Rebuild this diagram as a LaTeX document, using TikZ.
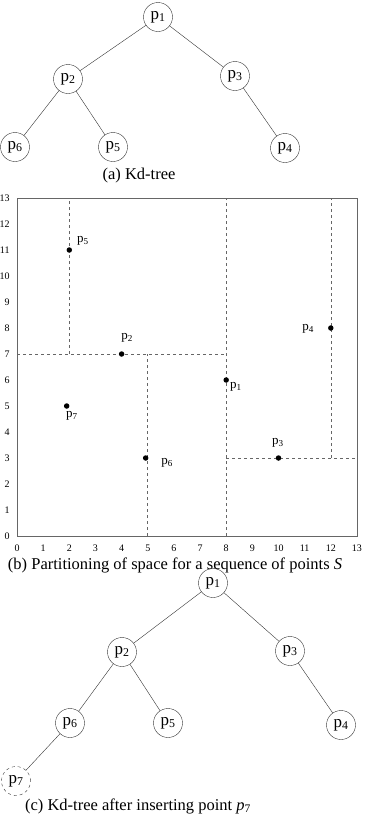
\documentclass[tikz,border=0pt]{standalone}
\usepackage{fontspec}
\setmainfont{Liberation Serif}
\usetikzlibrary{positioning}
\newcommand{\kp}[1]{p\textsubscript{#1}}
\tikzset{
  knode/.style={circle,draw=black!80,thin,minimum size=29pt,inner sep=0pt,font=\fontsize{17}{17}\selectfont},
  newnode/.style={knode,dashed},
  kedge/.style={black!80,thin},
  split/.style={black!60,dashed,line width=0.6pt},
  dot/.style={circle,fill=black,inner sep=0pt,minimum size=5.5pt},
  plabel/.style={font=\fontsize{13}{13}\selectfont},
  ticklab/.style={font=\fontsize{10}{10}\selectfont},
  caption/.style={font=\fontsize{16.5}{16.5}\selectfont}
}
\begin{document}
\begin{tikzpicture}[x=1pt,y=-1pt]
\useasboundingbox (0,0) rectangle (369,820);
% (a) kd-tree
\node[knode] (a1) at (158,17) {\kp{1}};
\node[knode] (a2) at (68,79) {\kp{2}};
\node[knode] (a3) at (235,76) {\kp{3}};
\node[knode] (a6) at (15,147) {\kp{6}};
\node[knode] (a5) at (113,147) {\kp{5}};
\node[knode] (a4) at (285,148) {\kp{4}};
\draw[kedge] (a1) -- (a2);
\draw[kedge] (a1) -- (a3);
\draw[kedge] (a2) -- (a6);
\draw[kedge] (a2) -- (a5);
\draw[kedge] (a3) -- (a4);
\node[caption] (capa) at (139,176) {(a) Kd-tree};
% (b) partitioning of the plane
\begin{scope}[shift={(17,536)},x=26.15pt,y=26pt]
\draw[split] (8,0) -- (8,13);
\draw[split] (0,7) -- (8,7);
\draw[split] (2,7) -- (2,13);
\draw[split] (5,0) -- (5,7);
\draw[split] (8,3) -- (13,3);
\draw[split] (12,3) -- (12,13);
\draw[black!60,line width=0.8pt] (0,0) rectangle (13,13);
\foreach \v in {0,...,13}
  {\node[ticklab,anchor=east] at (-0.15,\v) {\v};
   \node[ticklab,anchor=north] at (\v,-0.22) {\v};}
\foreach \n/\x/\y/\lx/\ly in {1/8/6/8.37/5.73, 2/4/7/4.21/7.62, 3/10/3/9.98/3.58,
    4/12/8/11.13/7.96, 5/2/11/2.52/11.35, 6/4.92/3/5.74/2.81, 7/1.9/5/2.10/4.62}
  {\node[dot] (s\n) at (\x,\y) {};
   \node[plabel] (l\n) at (\lx,\ly) {\kp{\n}};}
\end{scope}
\node[caption] (capb) at (175,565) {(b) Partitioning of space for a sequence of points \textit{S}};
% (c) after inserting p7
\node[knode] (c1) at (213,583) {\kp{1}};
\node[knode] (c2) at (122,652) {\kp{2}};
\node[knode] (c3) at (290,651) {\kp{3}};
\node[knode] (c6) at (70,723) {\kp{6}};
\node[knode] (c5) at (168,723) {\kp{5}};
\node[knode] (c4) at (341,725) {\kp{4}};
\node[newnode] (c7) at (16,781) {\kp{7}};
\draw[kedge] (c1) -- (c2);
\draw[kedge] (c1) -- (c3);
\draw[kedge] (c2) -- (c6);
\draw[kedge] (c2) -- (c5);
\draw[kedge] (c3) -- (c4);
\draw[kedge] (c6) -- (c7);
\node[caption] (capc) at (138,806) {(c) Kd-tree after inserting point \textit{p}\textsubscript{7}};
\end{tikzpicture}
\end{document}
